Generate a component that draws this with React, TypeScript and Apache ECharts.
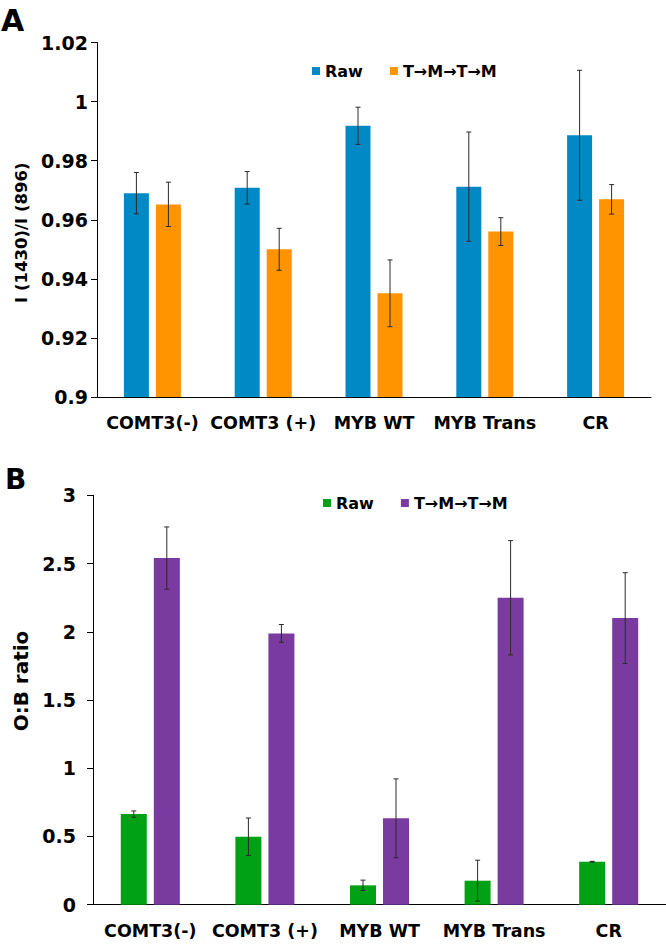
import React, { useEffect, useRef } from "react";
import * as echarts from "echarts";

const categories = ["COMT3(-)", "COMT3 (+)", "MYB WT", "MYB Trans", "CR"];
const seriesNames = ["Raw", "T\u2192M\u2192T\u2192M"];

const rawA = [0.969, 0.9708, 0.9918, 0.9712, 0.9886];
const rawAErr = [0.007, 0.0055, 0.0063, 0.0185, 0.022];
const tmtA = [0.9652, 0.95, 0.9351, 0.956, 0.9669];
const tmtAErr = [0.0075, 0.0071, 0.0113, 0.0047, 0.005];

const rawB = [0.664, 0.498, 0.142, 0.176, 0.315];
const rawBErr = [0.023, 0.137, 0.038, 0.15, 0.003];
const tmtB = [2.54, 1.988, 0.633, 2.249, 2.1];
const tmtBErr = [0.228, 0.065, 0.289, 0.419, 0.333];

const FONT = "DejaVu Sans";

type PanelCfg = {
  letter: string;
  letterLeft: number;
  letterTop: number;
  letterSize: number;
  grid: { left: number; right: number; top: number; bottom: number };
  legendLeft: number;
  legendTop: number;
  yMin: number;
  yMax: number;
  yInterval: number;
  yName: string;
  yNameSize: number;
  yNameGap: number;
  yNamePadding: number[];
  yLabelMargin: number;
  barWidth: number;
  barGap: string;
  offset: number;
  colors: string[];
  values: number[][];
  errors: number[][];
};

function errorSeries(values: number[], errs: number[], offset: number) {
  return {
    type: "custom",
    z: 5,
    silent: true,
    encode: { x: 0, y: [1, 2] },
    data: values.map((v, i) => [i, v - errs[i], v + errs[i]]),
    renderItem: (_params: any, api: any) => {
      const idx = api.value(0);
      const lo = api.coord([idx, api.value(1)]);
      const hi = api.coord([idx, api.value(2)]);
      const x = lo[0] + offset;
      const cap = 2.5;
      const style = { stroke: "#2a2a2a", lineWidth: 1 };
      return {
        type: "group",
        children: [
          { type: "line", shape: { x1: x, y1: hi[1], x2: x, y2: lo[1] }, style },
          { type: "line", shape: { x1: x - cap, y1: hi[1], x2: x + cap, y2: hi[1] }, style },
          { type: "line", shape: { x1: x - cap, y1: lo[1], x2: x + cap, y2: lo[1] }, style },
        ],
      };
    },
  };
}

function buildOption(c: PanelCfg) {
  return {
    animation: false,
    backgroundColor: "#ffffff",
    title: {
      text: c.letter,
      left: c.letterLeft,
      top: c.letterTop,
      padding: 0,
      textStyle: { fontFamily: FONT, fontWeight: "bold", fontSize: c.letterSize, color: "#000" },
    },
    legend: {
      data: seriesNames,
      left: c.legendLeft,
      top: c.legendTop,
      padding: 0,
      icon: "rect",
      itemWidth: 8,
      itemHeight: 8,
      itemGap: 27,
      textStyle: { fontFamily: FONT, fontWeight: "bold", fontSize: 16, color: "#000" },
    },
    grid: { ...c.grid, containLabel: false },
    xAxis: {
      type: "category",
      data: categories,
      axisLine: { lineStyle: { color: "#000", width: 1 } },
      axisTick: { show: false },
      axisLabel: {
        margin: 17,
        fontFamily: FONT,
        fontWeight: "bold",
        fontSize: 17.5,
        color: "#000",
        interval: 0,
      },
    },
    yAxis: {
      type: "value",
      min: c.yMin,
      max: c.yMax,
      interval: c.yInterval,
      name: c.yName,
      nameLocation: "middle",
      nameGap: c.yNameGap,
      nameTextStyle: {
        fontFamily: FONT,
        fontWeight: "bold",
        fontSize: c.yNameSize,
        color: "#000",
        padding: c.yNamePadding,
      },
      axisLine: { show: true, lineStyle: { color: "#000", width: 1 } },
      axisTick: { show: true, length: 6, lineStyle: { color: "#000" } },
      splitLine: { show: false },
      axisLabel: {
        margin: c.yLabelMargin,
        fontFamily: FONT,
        fontWeight: "bold",
        fontSize: 19,
        color: "#000",
      },
    },
    series: [
      {
        name: seriesNames[0],
        type: "bar",
        data: c.values[0],
        barWidth: c.barWidth,
        barGap: c.barGap,
        itemStyle: { color: c.colors[0] },
      },
      {
        name: seriesNames[1],
        type: "bar",
        data: c.values[1],
        barWidth: c.barWidth,
        barGap: c.barGap,
        itemStyle: { color: c.colors[1] },
      },
      errorSeries(c.values[0], c.errors[0], -c.offset),
      errorSeries(c.values[1], c.errors[1], c.offset),
    ],
  };
}

const cfgA: PanelCfg = {
  letter: "A",
  letterLeft: 1,
  letterTop: 5,
  letterSize: 30,
  grid: { left: 97, right: 15, top: 42.5, bottom: 53 },
  legendLeft: 312,
  legendTop: 63,
  yMin: 0.9,
  yMax: 1.02,
  yInterval: 0.02,
  yName: "I (1430)/I (896)",
  yNameSize: 16.5,
  yNameGap: 63,
  yNamePadding: [0, 26, 0, 0],
  yLabelMargin: 9,
  barWidth: 25,
  barGap: "28%",
  offset: 16,
  colors: ["#0089C4", "#FF9300"],
  values: [rawA, tmtA],
  errors: [rawAErr, tmtAErr],
};

const cfgB: PanelCfg = {
  letter: "B",
  letterLeft: 5,
  letterTop: 15,
  letterSize: 28,
  grid: { left: 93, right: 0, top: 45.3, bottom: 41.3 },
  legendLeft: 323,
  legendTop: 45,
  yMin: 0,
  yMax: 3,
  yInterval: 0.5,
  yName: "O:B ratio",
  yNameSize: 20,
  yNameGap: 50,
  yNamePadding: [0, 0, 0, 38],
  yLabelMargin: 17,
  barWidth: 26,
  barGap: "27%",
  offset: 16.5,
  colors: ["#00A114", "#7A3BA0"],
  values: [rawB, tmtB],
  errors: [rawBErr, tmtBErr],
};

function Panel({ cfg, top, height }: { cfg: PanelCfg; top: number; height: number }) {
  const ref = useRef<HTMLDivElement | null>(null);
  useEffect(() => {
    if (!ref.current) return;
    const chart = echarts.init(ref.current, undefined, { renderer: "svg" });
    chart.setOption(buildOption(cfg) as any);
    return () => chart.dispose();
  }, [cfg]);
  return (
    <div
      ref={ref}
      style={{ position: "absolute", left: 0, top, width: 666, height }}
    />
  );
}

export default function App() {
  return (
    <div style={{ position: "fixed", left: 0, top: 0, width: 666, height: 946, background: "#fff" }}>
      <Panel cfg={cfgA} top={0} height={450} />
      <Panel cfg={cfgB} top={450} height={496} />
    </div>
  );
}
